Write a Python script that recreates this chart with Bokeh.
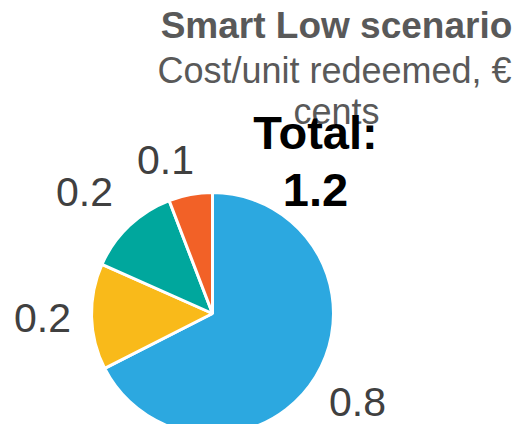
import numpy as np
from bokeh.plotting import figure
from bokeh.models import Range1d, ColumnDataSource
from bokeh.core.properties import value
from bokeh.embed import file_html
from bokeh.resources import INLINE

# ---- data ----
segments = ["Segment A", "Segment B", "Segment C", "Segment D"]
values = [0.81, 0.17, 0.15, 0.07]
value_labels = ["0.8", "0.2", "0.2", "0.1"]
colors = ["#2CA8E0", "#F9BA1A", "#00A79D", "#F26127"]
title_text = "Smart Low scenario"
subtitle_lines = ["Cost/unit redeemed, €", "cents"]
total_caption = "Total:"

# ---- layout ----
W, H = 515, 424
cx, cy, R = 212, H - 313, 121
label_r = 170
label_nudge_x = [0, 0, -11, -16]
label_nudge_y = [0, 0, -2, -14]
FONT = "Liberation Sans"

p = figure(width=W, height=H, output_backend="svg", toolbar_location=None,
           x_range=Range1d(0, W), y_range=Range1d(0, H), min_border=0)
p.axis.visible = False
p.grid.visible = False
p.outline_line_color = None
p.background_fill_color = "white"
p.border_fill_color = "white"

vals = np.array(values, dtype=float)
frac = vals / vals.sum()
cum = np.concatenate([[0], np.cumsum(frac)])
start = np.pi / 2 - 2 * np.pi * cum[:-1]
end = np.pi / 2 - 2 * np.pi * cum[1:]
mid = (start + end) / 2

src = ColumnDataSource(dict(seg=segments, start=start, end=end, color=colors))
p.wedge(x=cx, y=cy, radius=R, start_angle="start", end_angle="end",
        direction="clock", fill_color="color", line_color="white",
        line_width=3, source=src)

lx = cx + label_r * np.cos(mid) + np.array(label_nudge_x)
ly = cy + label_r * np.sin(mid) + np.array(label_nudge_y)
p.text(x=list(lx), y=list(ly), text=value_labels, text_font=value(FONT),
       text_font_size="41px", text_color="#404040", text_align="center",
       text_baseline="middle")

# title block
p.text(x=[336], y=[H - 25], text=[title_text], text_font=value(FONT),
       text_font_size="37px", text_font_style="bold", text_color="#595959",
       text_align="center", text_baseline="alphabetic")
p.text(x=[334, 336], y=[H - 70, H - 111], text=subtitle_lines, text_font=value(FONT),
       text_font_size="36px", text_color="#595959",
       text_align="center", text_baseline="alphabetic")

# total
total_str = f"{vals.sum():.1f}"
p.text(x=[315, 315], y=[H - 132, H - 189], text=[total_caption, total_str],
       text_font=value(FONT), text_font_size="47px", text_font_style="bold",
       text_color="#000000", text_align="center", text_baseline="alphabetic")

open("out.html", "w").write(file_html(p, INLINE))
